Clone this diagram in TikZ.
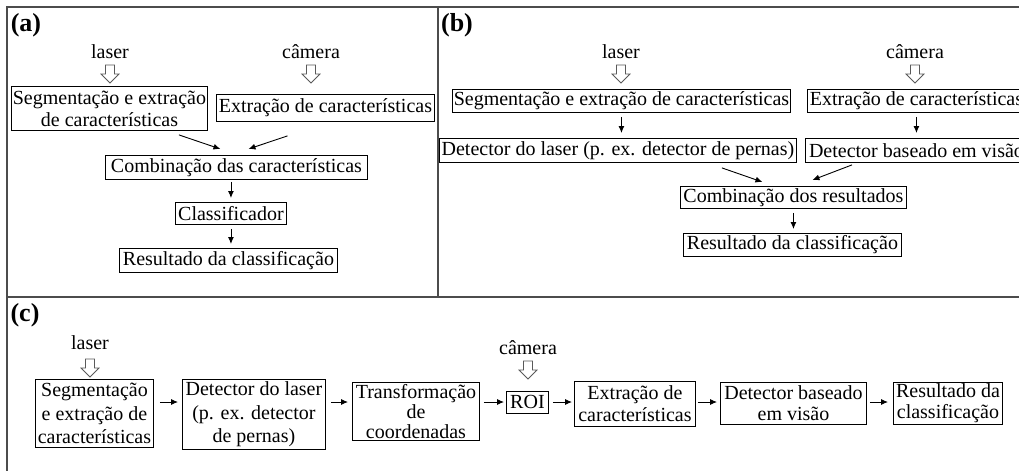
\documentclass[tikz,border=0pt]{standalone}
\usepackage{fontspec}
\setmainfont{Liberation Serif}
\usetikzlibrary{arrows.meta}
\newcommand\hollowdown[1]{\draw[hollow] (#1) ++(-4.5,0) -- ++(0,9) -- ++(-4.5,0) -- ++(9,9) -- ++(9,-9) -- ++(-4.5,0) -- ++(0,-9) -- cycle;}
\begin{document}
\begin{tikzpicture}[x=1pt,y=-1pt,
  box/.style={draw=black, line width=0.9pt, inner sep=0pt, align=center, anchor=north west, font=\fontsize{20}{22}\selectfont},
  lbl/.style={inner sep=0pt, font=\fontsize{20}{22}\selectfont},
  tag/.style={inner sep=0pt, font=\fontsize{26}{28}\selectfont\bfseries},
  arr/.style={line width=0.9pt, -{Latex[length=7pt,width=6pt]}},
  hollow/.style={draw=gray!70!black, line width=0.8pt, fill=white},
  frame/.style={draw=gray!60!black, line width=1.5pt}]
\useasboundingbox (0,0) rectangle (1019,471);
\fill[white] (0,0) rectangle (1019,471);
\clip (0,0) rectangle (1019,471);
% frames
\draw[frame] (1019,7) -- (7,7) -- (7,471);
\draw[frame] (438,7) -- (438,297);
\draw[frame] (7,297) -- (1019,297);
% ---------- (a)
\node[tag] (ta) at (26,25) {(a)};
\node[lbl] (la) at (110,52) {laser};
\node[lbl] (ca) at (311,52) {câmera};
\coordinate (ha1) at (110,65);
\coordinate (ha2) at (311,65);
\hollowdown{ha1}
\hollowdown{ha2}
\node[box, minimum width=196, minimum height=44] (a1) at (11,86) {Segmentação e extração\\de características};
\node[box, minimum width=218, minimum height=27] (a2) at (216,94) {Extração de características};
\node[box, minimum width=262, minimum height=24] (a3) at (105,155) {Combinação das características};
\node[box, minimum width=111, minimum height=22] (a4) at (175,202) {Classificador};
\node[box, minimum width=218, minimum height=24] (a5) at (119,248) {Resultado da classificação};
\draw[arr] ([shift={(-29,4)}]a1.south east) -- ([shift={(-16,-6)}]a3.north);
\draw[arr] ([shift={(-38,14)}]a2.south) -- ([shift={(12,-6)}]a3.north);
\draw[arr, shorten <=2pt, shorten >=4pt] (a4.north |- a3.south) -- (a4.north);
\draw[arr, shorten <=4pt, shorten >=4pt] (a4.south) -- (a4.south |- a5.north);
% ---------- (b)
\node[tag] (tb) at (457,25) {(b)};
\node[lbl] (lb) at (621,52) {laser};
\node[lbl] (cb) at (915,52) {câmera};
\coordinate (hb1) at (621,65);
\coordinate (hb2) at (915,65);
\hollowdown{hb1}
\hollowdown{hb2}
\node[box, minimum width=338, minimum height=23] (b1) at (452,89) {Segmentação e extração de características};
\node[box, minimum width=357, minimum height=24] (b2) at (439,138) {Detector do laser (p. ex. detector de pernas)};
\node[box, minimum width=218, minimum height=23] (b3) at (807,89) {Extração de características};
\node[box, minimum width=222, minimum height=24] (b4) at (805,138) {Detector baseado em visão};
\node[box, minimum width=226, minimum height=22] (b5) at (680,186) {Combinação dos resultados};
\node[box, minimum width=218, minimum height=23] (b6) at (683,233) {Resultado da classificação};
\draw[arr, shorten <=4pt, shorten >=5pt] (b1.south) -- (b1.south |- b2.north);
\draw[arr, shorten <=4pt, shorten >=5pt] (b3.south) -- (b3.south |- b4.north);
\draw[arr] ([shift={(-75,5)}]b2.south east) -- ([shift={(-31,-4)}]b5.north);
\draw[arr] ([shift={(47,2)}]b4.south west) -- ([shift={(19,-6)}]b5.north);
\draw[arr, shorten <=4pt, shorten >=4pt] (b5.south) -- (b5.south |- b6.north);
% ---------- (c)
\node[tag] (tc) at (25,315) {(c)};
\node[lbl] (lc) at (90,343) {laser};
\node[lbl] (cc) at (528,348) {câmera};
\coordinate (hc1) at (90,359);
\coordinate (hc2) at (528,361);
\hollowdown{hc1}
\hollowdown{hc2}
\node[box, minimum width=118, minimum height=68, font=\fontsize{20}{23.5}\selectfont] (c1) at (35,379) {Segmentação\\e extração de\\características};
\node[box, minimum width=143, minimum height=70, font=\fontsize{20}{23.5}\selectfont] (c2) at (182,379) {Detector do laser\\(p. ex. detector\\de pernas)};
\node[box, minimum width=127, minimum height=58, font=\fontsize{20}{20}\selectfont] (c3) at (352,382) {Transformação\\de\\coordenadas};
\node[box, minimum width=42, minimum height=22] (c4) at (506,391) {ROI};
\node[box, minimum width=121, minimum height=45, font=\fontsize{20}{22}\selectfont] (c5) at (574,381) {Extração de\\características};
\node[box, minimum width=146, minimum height=42, font=\fontsize{20}{21}\selectfont] (c6) at (720,382) {Detector baseado\\em visão};
\node[box, minimum width=109, minimum height=42, font=\fontsize{20}{21}\selectfont] (c7) at (893,382) {Resultado da\\classificação};
\coordinate (cy) at (0,402);
\draw[arr, shorten <=6pt, shorten >=4pt] (c1.east |- cy) -- (c2.west |- cy);
\draw[arr, shorten <=5pt, shorten >=4pt] (c2.east |- cy) -- (c3.west |- cy);
\draw[arr, shorten <=4pt, shorten >=2pt] (c3.east |- cy) -- (c4.west |- cy);
\draw[arr, shorten <=4pt, shorten >=2pt] (c4.east |- cy) -- (c5.west |- cy);
\draw[arr, shorten <=2pt, shorten >=3pt] (c5.east |- cy) -- (c6.west |- cy);
\draw[arr, shorten <=3pt, shorten >=5pt] (c6.east |- cy) -- (c7.west |- cy);
\end{tikzpicture}
\end{document}
